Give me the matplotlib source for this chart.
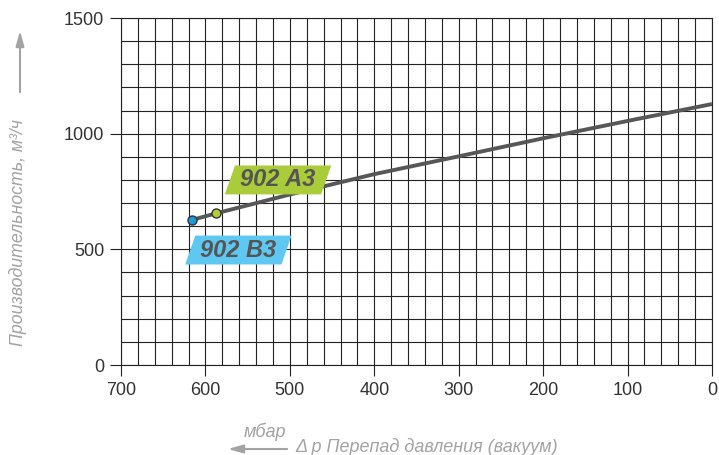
import numpy as np
import matplotlib.pyplot as plt
from matplotlib.patches import Polygon
from matplotlib.ticker import MultipleLocator

# pump curve: pressure difference (mbar) vs capacity (m3/h)
pressure = [616, 588, 500, 400, 300, 200, 100, 0]
capacity = [627, 655, 737, 825, 902, 980, 1055, 1128]

# model points and labels
model_names = ['902 A3', '902 B3']
model_p = [588, 616]
model_q = [655, 627]
model_colors = ['#b3cc3c', '#1d9ad6']
label_colors = ['#aacb3a', '#5ec8f2']
label_pos = [(514, 800), (561, 497)]   # label centres in data units

x_ticks = [700, 600, 500, 400, 300, 200, 100, 0]
y_ticks = [0, 500, 1000, 1500]

plt.rcParams['font.family'] = ['Liberation Sans', 'DejaVu Sans']

fig = plt.figure(figsize=(7.19, 4.55), dpi=100)
ax = fig.add_axes([121/719, 1-365/455, 591/719, 347/455])

ax.set_xlim(700, 0)
ax.set_ylim(0, 1500)
ax.set_xticks(x_ticks)
ax.set_yticks(y_ticks)
ax.xaxis.set_minor_locator(MultipleLocator(20))
ax.yaxis.set_minor_locator(MultipleLocator(100))
ax.grid(True, which='both', color='#222222', linewidth=0.8)
ax.set_axisbelow(True)
ax.tick_params(which='major', length=8, width=0.8, color='#222222',
               labelsize=13, labelcolor='#333333', pad=4)
ax.tick_params(which='minor', length=0)
for s in ax.spines.values():
    s.set_color('#222222')
    s.set_linewidth(0.8)

ax.plot(pressure, capacity, color='#575757', linewidth=2.8,
        solid_capstyle='butt', zorder=3)
for p, q, c in zip(model_p, model_q, model_colors):
    ax.plot(p, q, 'o', ms=6.5, mfc=c, mec='#333333', mew=1.0, zorder=4)

# parallelogram labels
w, h, sk = 126, 125, 12
for name, (cx, cy), c in zip(model_names, label_pos, label_colors):
    pts = [(cx + w/2, cy - h/2), (cx - w/2 + sk, cy - h/2),
           (cx - w/2, cy + h/2), (cx + w/2 - sk, cy + h/2)]
    ax.add_patch(Polygon(pts, closed=True, facecolor=c, edgecolor='none', zorder=5))
    ax.text(cx, cy, name, ha='center', va='center', fontsize=17,
            fontweight='heavy', fontstyle='italic', color='#555555', zorder=6)

# axis captions with arrows
grey = '#a3a3a3'
fig.text(18/719, 1-233/455, 'Производительность, м³/ч', rotation=90,
         ha='center', va='center', fontsize=12.8, style='italic', color=grey)
ax.annotate('', xy=(20/719, 1-28/455), xycoords='figure fraction',
            xytext=(20/719, 1-95/455), textcoords='figure fraction',
            arrowprops=dict(arrowstyle='-|>,head_length=0.9,head_width=0.25',
                            color=grey, lw=1.5))
fig.text(265/719, 1-432/455, 'мбар', ha='center', va='center',
         fontsize=13, style='italic', color=grey)
ax.annotate('', xy=(225/719, 1-449/455), xycoords='figure fraction',
            xytext=(290/719, 1-449/455), textcoords='figure fraction',
            arrowprops=dict(arrowstyle='-|>,head_length=0.9,head_width=0.25',
                            color=grey, lw=1.5))
fig.text(295/719, 1-447/455, 'Δ p Перепад давления (вакуум)', ha='left',
         va='center', fontsize=13, style='italic', color=grey)

fig.savefig('out.png', dpi=100)
